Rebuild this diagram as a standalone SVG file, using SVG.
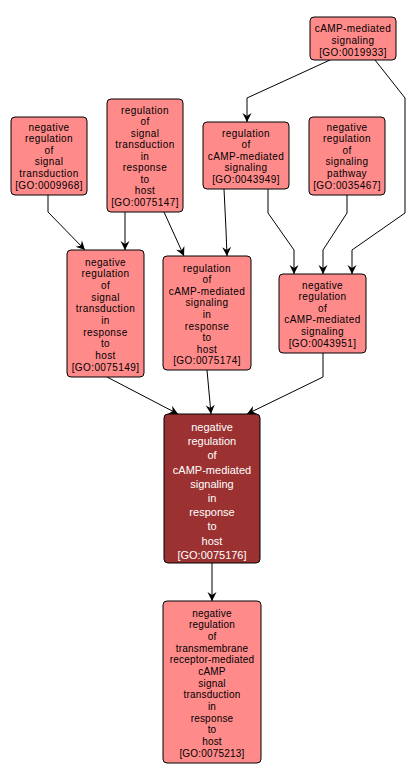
<svg xmlns="http://www.w3.org/2000/svg" width="416" height="781" viewBox="0 0 416 781">
<style>
.n{fill:#ff8a8a;stroke:#000;stroke-width:1}
.d{fill:#9b3131;stroke:#000;stroke-width:1}
.t{font-family:"Liberation Sans",Arial,sans-serif;font-size:10px;letter-spacing:0.4px;text-anchor:middle;fill:#000}
.j{letter-spacing:0.2px}
.w{font-family:"Liberation Sans",Arial,sans-serif;font-size:11px;text-anchor:middle;fill:#fff}
.e{fill:none;stroke:#000;stroke-width:1;marker-end:url(#a)}
</style>
<defs>
<marker id="a" markerUnits="userSpaceOnUse" markerWidth="12" markerHeight="12" viewBox="-10 -6 12 12" refX="0" refY="0" orient="auto">
<path d="M0,0 L-9,-4.5 L-6,0 L-9,4.5 Z" fill="#000"/>
</marker>
</defs>
<rect width="416" height="781" fill="#fff"/>
<g id="edges">
<path class="e" d="M48,195 L48,212 L85,250"/>
<path class="e" d="M125,212 L125,250"/>
<path class="e" d="M164,212 L184,256"/>
<path class="e" d="M330,60 L247,98 L247,122"/>
<path class="e" d="M375,60 L405,98 L405,213 L352,250 L352,274"/>
<path class="e" d="M224,189 L226,230 L227,256"/>
<path class="e" d="M268,189 L268,213 L294,250 L294,274"/>
<path class="e" d="M347,195 L347,213 L323,250 L323,274"/>
<path class="e" d="M107,377 L178,414"/>
<path class="e" d="M207,370 L211,414"/>
<path class="e" d="M323,353 L323,377 L247,414"/>
<path class="e" d="M212,563 L212,601"/>
</g>
<g id="GO0009968">
<rect class="n" x="11" y="117" width="76" height="78" rx="4"/>
<text class="t" x="49" y="130.5">negative</text>
<text class="t" x="49" y="142.1">regulation</text>
<text class="t" x="49" y="153.7">of</text>
<text class="t" x="49" y="165.3">signal</text>
<text class="t" x="49" y="176.9">transduction</text>
<text class="t" x="49" y="188.5">[GO:0009968]</text>
</g>
<g id="GO0075147">
<rect class="n" x="107" y="99" width="76" height="113" rx="4"/>
<text class="t" x="145" y="113.5">regulation</text>
<text class="t" x="145" y="125">of</text>
<text class="t" x="145" y="136.5">signal</text>
<text class="t" x="145" y="148">transduction</text>
<text class="t" x="145" y="159.5">in</text>
<text class="t" x="145" y="171">response</text>
<text class="t" x="145" y="182.5">to</text>
<text class="t" x="145" y="194">host</text>
<text class="t" x="145" y="205.5">[GO:0075147]</text>
</g>
<g id="GO0019933">
<rect class="n" x="310" y="17" width="86" height="43" rx="4"/>
<text class="t" x="353" y="31.5">cAMP-mediated</text>
<text class="t" x="353" y="43.5">signaling</text>
<text class="t" x="353" y="55.5">[GO:0019933]</text>
</g>
<g id="GO0043949">
<rect class="n" x="203" y="122" width="86" height="67" rx="4"/>
<text class="t" x="246" y="136.5">regulation</text>
<text class="t" x="246" y="148">of</text>
<text class="t" x="246" y="159.5">cAMP-mediated</text>
<text class="t" x="246" y="171">signaling</text>
<text class="t" x="246" y="182.5">[GO:0043949]</text>
</g>
<g id="GO0035467">
<rect class="n" x="309" y="117" width="76" height="78" rx="4"/>
<text class="t" x="347" y="130.5">negative</text>
<text class="t" x="347" y="142.1">regulation</text>
<text class="t" x="347" y="153.7">of</text>
<text class="t" x="347" y="165.3">signaling</text>
<text class="t" x="347" y="176.9">pathway</text>
<text class="t" x="347" y="188.5">[GO:0035467]</text>
</g>
<g id="GO0075149">
<rect class="n" x="67" y="250" width="77" height="127" rx="4"/>
<text class="t" x="105.5" y="265.5">negative</text>
<text class="t" x="105.5" y="277.2">regulation</text>
<text class="t" x="105.5" y="288.9">of</text>
<text class="t" x="105.5" y="300.6">signal</text>
<text class="t" x="105.5" y="312.3">transduction</text>
<text class="t" x="105.5" y="324">in</text>
<text class="t" x="105.5" y="335.7">response</text>
<text class="t" x="105.5" y="347.4">to</text>
<text class="t" x="105.5" y="359.1">host</text>
<text class="t" x="105.5" y="370.8">[GO:0075149]</text>
</g>
<g id="GO0075174">
<rect class="n" x="163" y="256" width="88" height="114" rx="4"/>
<text class="t" x="207" y="271.5">regulation</text>
<text class="t" x="207" y="283.1">of</text>
<text class="t" x="207" y="294.7">cAMP-mediated</text>
<text class="t" x="207" y="306.3">signaling</text>
<text class="t" x="207" y="317.9">in</text>
<text class="t" x="207" y="329.5">response</text>
<text class="t" x="207" y="341.1">to</text>
<text class="t" x="207" y="352.7">host</text>
<text class="t" x="207" y="364.3">[GO:0075174]</text>
</g>
<g id="GO0043951">
<rect class="n" x="279" y="274" width="87" height="79" rx="4"/>
<text class="t" x="322.5" y="288.5">negative</text>
<text class="t" x="322.5" y="300.1">regulation</text>
<text class="t" x="322.5" y="311.7">of</text>
<text class="t" x="322.5" y="323.3">cAMP-mediated</text>
<text class="t" x="322.5" y="334.9">signaling</text>
<text class="t" x="322.5" y="346.5">[GO:0043951]</text>
</g>
<g id="GO0075176">
<rect class="d" x="164" y="414" width="96" height="149" rx="4"/>
<text class="w" x="212" y="431">negative</text>
<text class="w" x="212" y="445.2">regulation</text>
<text class="w" x="212" y="459.4">of</text>
<text class="w" x="212" y="473.6">cAMP-mediated</text>
<text class="w" x="212" y="487.8">signaling</text>
<text class="w" x="212" y="502">in</text>
<text class="w" x="212" y="516.2">response</text>
<text class="w" x="212" y="530.4">to</text>
<text class="w" x="212" y="544.6">host</text>
<text class="w" x="212" y="558.8">[GO:0075176]</text>
</g>
<g id="GO0075213">
<rect class="n" x="163" y="601" width="98" height="162" rx="4"/>
<text class="t j" x="212" y="616.5">negative</text>
<text class="t j" x="212" y="628.2">regulation</text>
<text class="t j" x="212" y="639.8">of</text>
<text class="t j" x="212" y="651.5">transmembrane</text>
<text class="t j" x="212" y="663.2">receptor-mediated</text>
<text class="t j" x="212" y="674.8">cAMP</text>
<text class="t j" x="212" y="686.5">signal</text>
<text class="t j" x="212" y="698.2">transduction</text>
<text class="t j" x="212" y="709.8">in</text>
<text class="t j" x="212" y="721.5">response</text>
<text class="t j" x="212" y="733.2">to</text>
<text class="t j" x="212" y="744.8">host</text>
<text class="t j" x="212" y="756.5">[GO:0075213]</text>
</g>
</svg>
